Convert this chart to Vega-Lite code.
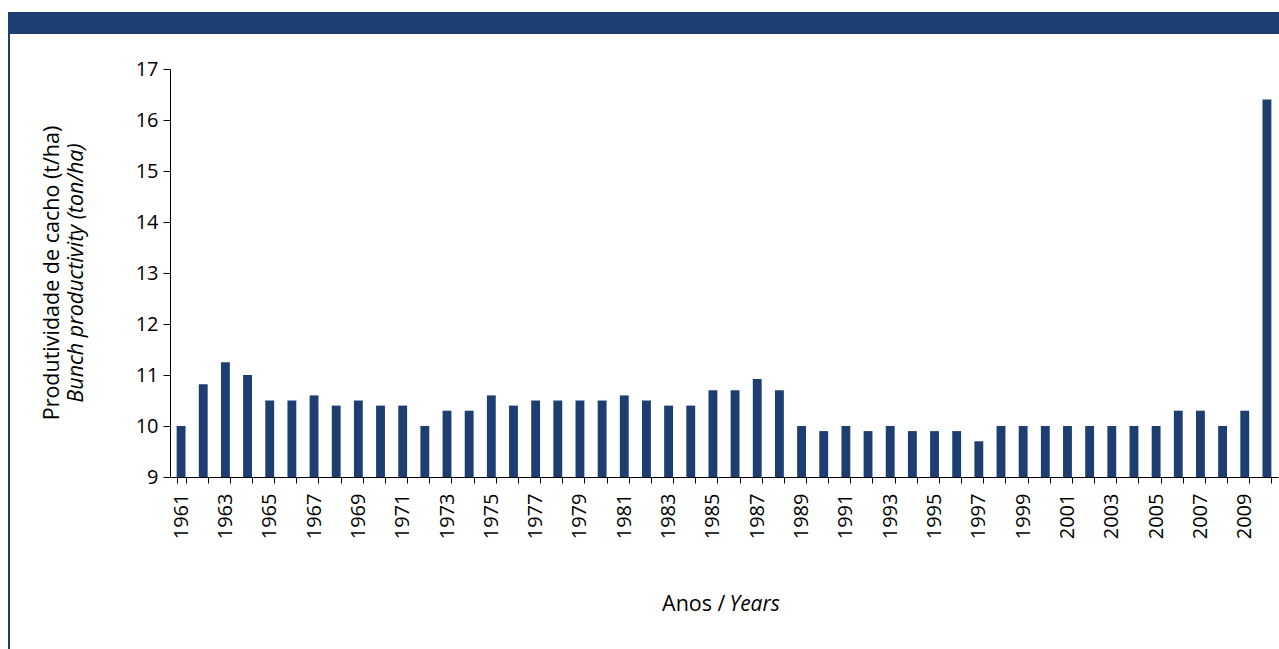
{
  "$schema": "https://vega.github.io/schema/vega-lite/v6.json",
  "padding": {"left": 8, "top": 12, "right": 0, "bottom": 0},
  "background": "white",
  "config": {
    "view": {"stroke": null},
    "font": "Open Sans",
    "concat": {"spacing": 0}
  },
  "hconcat": [
    {
      "width": 2,
      "height": 637,
      "view": {"fill": "#1c3f73", "stroke": null},
      "data": {"values": []},
      "mark": "rect",
      "encoding": {}
    },
    {
      "spacing": 25,
      "vconcat": [
        {
          "width": 1269,
          "height": 22,
          "view": {"fill": "#1c3f73", "stroke": null},
          "data": {"values": []},
          "mark": "rect",
          "encoding": {}
        },
        {
          "spacing": 31,
          "hconcat": [
            {
              "width": 1,
              "height": 1,
              "data": {"values": []},
              "mark": "rect",
              "encoding": {}
            },
            {
              "width": 1108,
              "height": 408,
              "title": {
                "text": "Produtividade de cacho (t/ha)",
                "subtitle": "Bunch productivity (ton/ha)",
                "orient": "left",
                "anchor": "middle",
                "frame": "group",
                "font": "Open Sans",
                "fontSize": 21.5,
                "fontWeight": "normal",
                "color": "black",
                "subtitleFont": "Open Sans",
                "subtitleFontSize": 21.5,
                "subtitleFontStyle": "italic",
                "subtitleColor": "black",
                "subtitlePadding": 2,
                "offset": 48
              },
              "data": {
                "values": [
                  {"year": 1961, "value": 10.0}, {"year": 1962, "value": 10.82}, {"year": 1963, "value": 11.25},
                  {"year": 1964, "value": 11.0}, {"year": 1965, "value": 10.5}, {"year": 1966, "value": 10.5},
                  {"year": 1967, "value": 10.6}, {"year": 1968, "value": 10.4}, {"year": 1969, "value": 10.5},
                  {"year": 1970, "value": 10.4}, {"year": 1971, "value": 10.4}, {"year": 1972, "value": 10.0},
                  {"year": 1973, "value": 10.3}, {"year": 1974, "value": 10.3}, {"year": 1975, "value": 10.6},
                  {"year": 1976, "value": 10.4}, {"year": 1977, "value": 10.5}, {"year": 1978, "value": 10.5},
                  {"year": 1979, "value": 10.5}, {"year": 1980, "value": 10.5}, {"year": 1981, "value": 10.6},
                  {"year": 1982, "value": 10.5}, {"year": 1983, "value": 10.4}, {"year": 1984, "value": 10.4},
                  {"year": 1985, "value": 10.7}, {"year": 1986, "value": 10.7}, {"year": 1987, "value": 10.92},
                  {"year": 1988, "value": 10.7}, {"year": 1989, "value": 10.0}, {"year": 1990, "value": 9.9},
                  {"year": 1991, "value": 10.0}, {"year": 1992, "value": 9.9}, {"year": 1993, "value": 10.0},
                  {"year": 1994, "value": 9.9}, {"year": 1995, "value": 9.9}, {"year": 1996, "value": 9.9},
                  {"year": 1997, "value": 9.7}, {"year": 1998, "value": 10.0}, {"year": 1999, "value": 10.0},
                  {"year": 2000, "value": 10.0}, {"year": 2001, "value": 10.0}, {"year": 2002, "value": 10.0},
                  {"year": 2003, "value": 10.0}, {"year": 2004, "value": 10.0}, {"year": 2005, "value": 10.0},
                  {"year": 2006, "value": 10.3}, {"year": 2007, "value": 10.3}, {"year": 2008, "value": 10.0},
                  {"year": 2009, "value": 10.3}, {"year": 2010, "value": 16.4}
                ]
              },
              "layer": [
                {
                  "mark": {"type": "bar", "color": "#1c3e70"},
                  "encoding": {
                    "x": {
                      "field": "year",
                      "type": "ordinal",
                      "scale": {"paddingInner": 0.6, "paddingOuter": 0.3},
                      "axis": {
                        "title": "Anos /",
                        "titleFont": "Open Sans",
                        "titleFontSize": 21.5,
                        "titleFontWeight": "normal",
                        "titleColor": "black",
                        "titleAlign": "right",
                        "titleBaseline": "top",
                        "titleY": 116,
                        "titleX": 555,
                        "labelAngle": -90,
                        "labelFont": "Open Sans",
                        "labelFontSize": 20,
                        "labelColor": "black",
                        "labelPadding": 10,
                        "labelOverlap": false,
                        "labelExpr": "datum.value % 2 == 1 ? datum.label : ''",
                        "tickBand": "extent",
                        "tickSize": 6,
                        "tickColor": "black",
                        "domainColor": "black",
                        "grid": false
                      }
                    },
                    "y": {
                      "field": "value",
                      "type": "quantitative",
                      "scale": {"domain": [9, 17], "zero": false, "nice": false},
                      "axis": {
                        "title": null,
                        "values": [9, 10, 11, 12, 13, 14, 15, 16, 17],
                        "labelFont": "Open Sans",
                        "labelFontSize": 20,
                        "labelColor": "black",
                        "labelPadding": 5,
                        "tickSize": 7,
                        "tickColor": "black",
                        "domainColor": "black",
                        "grid": false
                      }
                    },
                    "y2": {"datum": 9}
                  }
                },
                {
                  "mark": {"type": "bar", "color": "#1c3e70", "opacity": 0},
                  "encoding": {
                    "x": {
                      "field": "year",
                      "type": "ordinal",
                      "axis": {
                        "orient": "bottom",
                        "title": "Years",
                        "titleFont": "Open Sans",
                        "titleFontSize": 21,
                        "titleFontWeight": "normal",
                        "titleFontStyle": "italic",
                        "titleColor": "black",
                        "titleAlign": "left",
                        "titleBaseline": "top",
                        "titleY": 116,
                        "titleX": 559,
                        "labels": false,
                        "ticks": false,
                        "domain": false,
                        "grid": false
                      }
                    }
                  }
                }
              ],
              "resolve": {"axis": {"x": "independent"}}
            }
          ]
        }
      ]
    }
  ]
}
